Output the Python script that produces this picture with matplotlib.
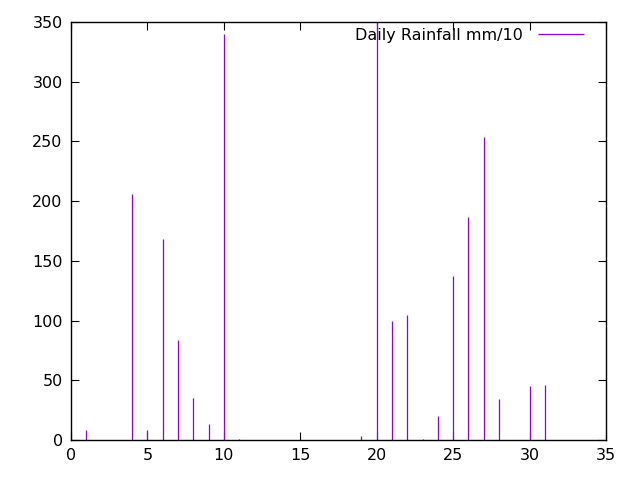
import matplotlib
matplotlib.use("Agg")
import matplotlib.pyplot as plt

days = list(range(1, 32))
rain = [8, 0, 0, 206, 8, 168, 84, 35, 13, 340,
        1, 0, 0, 0, 0, 0, 0, 0, 3, 400,
        100, 105, 1, 20, 137, 187, 254, 34, 0, 45, 46]

fig = plt.figure(figsize=(6.4, 4.8), dpi=100)
ax = fig.add_axes([71 / 640, 40 / 480, 535 / 640, 418 / 480])

ax.vlines(days, 0, rain, color="#9400d3", linewidth=0.9, label="Daily Rainfall mm/10")

ax.set_xlim(0, 35)
ax.set_ylim(0, 350)
ax.set_xticks(range(0, 36, 5))
ax.set_yticks(range(0, 351, 50))
ax.tick_params(direction="in", top=True, right=True, length=6, labelsize=11.5, pad=6)
for s in ax.spines.values():
    s.set_linewidth(1)

ax.legend(loc="upper right", frameon=False, markerfirst=False, fontsize=11.5,
          handlelength=2.9, borderaxespad=0, borderpad=0, handletextpad=0.9,
          bbox_to_anchor=(584 / 640 * 640 / 535 - 71 / 535, 1 - 6 / 418))

fig.savefig("out.png", dpi=100)
